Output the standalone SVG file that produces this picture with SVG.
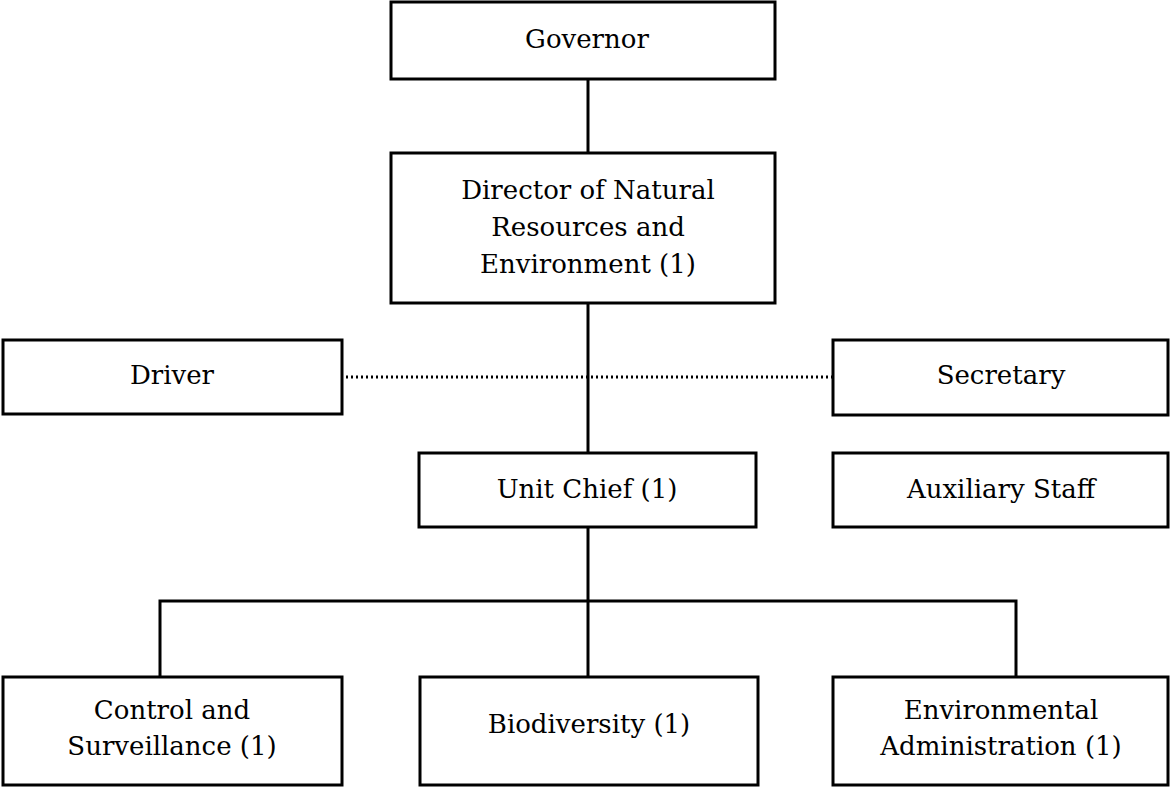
<svg xmlns="http://www.w3.org/2000/svg" width="1171" height="788" viewBox="0 0 1171 788">
<style>
.box{fill:#fff;stroke:#000;stroke-width:3}
.ln{stroke:#000;stroke-width:3;fill:none}
.dot{stroke:#000;stroke-width:3;fill:none;stroke-dasharray:2 3}
text{font-family:"DejaVu Serif","Liberation Serif",serif;font-size:26px;fill:#000;text-anchor:middle}
</style>
<rect width="1171" height="788" fill="#fff"/>
<g id="connectors">
<line class="ln" x1="588" y1="79" x2="588" y2="153"/>
<line class="ln" x1="588" y1="303" x2="588" y2="453"/>
<line class="dot" x1="346" y1="377" x2="832" y2="377"/>
<line class="ln" x1="588" y1="527" x2="588" y2="677"/>
<polyline class="ln" points="160,677 160,601 1016,601 1016,677"/>
</g>
<g id="governor"><rect class="box" x="391" y="2" width="384" height="77"/><text x="587" y="48">Governor</text></g>
<g id="director"><rect class="box" x="391" y="153" width="384" height="150"/><text x="588" y="199">Director of Natural</text><text x="588" y="236">Resources and</text><text x="588" y="273">Environment (1)</text></g>
<g id="driver"><rect class="box" x="3" y="340" width="339" height="74"/><text x="172" y="384">Driver</text></g>
<g id="secretary"><rect class="box" x="833" y="340" width="335" height="75"/><text x="1001" y="384">Secretary</text></g>
<g id="unitchief"><rect class="box" x="419" y="453" width="337" height="74"/><text x="587" y="498">Unit Chief (1)</text></g>
<g id="auxiliary"><rect class="box" x="833" y="453" width="335" height="74"/><text x="1001" y="498">Auxiliary Staff</text></g>
<g id="control"><rect class="box" x="3" y="677" width="339" height="108"/><text x="172" y="719">Control and</text><text x="172" y="755">Surveillance (1)</text></g>
<g id="biodiversity"><rect class="box" x="420" y="677" width="338" height="108"/><text x="589" y="733">Biodiversity (1)</text></g>
<g id="envadmin"><rect class="box" x="833" y="677" width="335" height="108"/><text x="1001" y="719">Environmental</text><text x="1001" y="755">Administration (1)</text></g>
</svg>
